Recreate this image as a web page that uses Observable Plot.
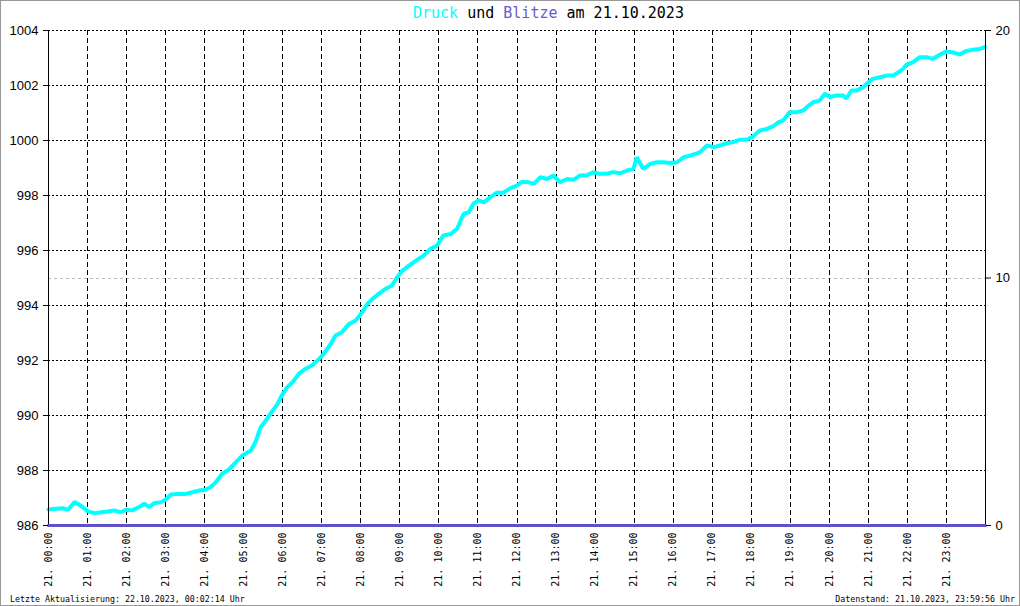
<!DOCTYPE html>
<html>
<head>
<meta charset="utf-8">
<script src="https://cdn.jsdelivr.net/npm/d3@7"></script>
<script src="https://cdn.jsdelivr.net/npm/@observablehq/plot@0.6"></script>
<style>
  html, body { margin: 0; padding: 0; background: white; }
  #frame { position: relative; width: 1020px; height: 606px; outline: 1px solid #999; outline-offset: -1px; overflow: hidden; background: white; }
  #title { height: 22px; line-height: 22px; padding-top: 2px; box-sizing: border-box; padding-left: 413px; font-family: "DejaVu Sans Mono", monospace; font-size: 15px; white-space: pre; color: black; }
  #chart svg { display: block; }
  #footer { height: 16px; box-sizing: border-box; padding: 1px 5px 0 10px; display: flex; justify-content: space-between; font-family: "DejaVu Sans Mono", monospace; font-size: 8.3px; line-height: 16px; color: black; white-space: pre; }
</style>
</head>
<body>
<div id="frame">
  <div id="title"><span style="color:#00FFFF">Druck</span> und <span style="color:#6A5ACD">Blitze</span> am 21.10.2023</div>
  <div id="chart"></div>
  <div id="footer"><span>Letzte Aktualisierung: 22.10.2023, 00:02:14 Uhr</span><span>Datenstand: 21.10.2023, 23:59:56 Uhr</span></div>
</div>
<script>
// Pressure readings (minute of day, hPa)
const minuteOfDay = [
  0,12,22,30,40,47,55,60,70,81,
  91,101,111,119,129,139,147,155,162,173,
  179,188,201,211,221,231,241,249,257,267,
  277,288,298,311,318,326,334,341,352,360,
  367,375,385,395,405,416,423,434,441,451,
  462,472,482,490,498,508,518,528,536,544,
  554,567,577,587,597,607,618,628,638,646,
  653,661,669,679,689,699,710,720,728,738,
  746,756,766,776,786,797,807,817,827,838,
  846,858,868,879,889,899,904,914,925,935,
  945,955,966,976,986,1001,1012,1022,1032,1042,
  1052,1063,1073,1083,1093,1104,1114,1121,1129,1139,
  1150,1160,1168,1175,1185,1193,1201,1211,1221,1226,
  1234,1242,1252,1260,1267,1278,1288,1298,1306,1313,
  1319,1329,1339,1349,1359,1370,1380,1390,1400,1411,
  1421,1431,1439
];
const pressureHpa = [
  986.58,986.61,986.63,986.57,986.85,986.76,986.62,986.52,986.45,986.48,
  986.51,986.55,986.48,986.57,986.55,986.67,986.79,986.67,986.81,986.85,
  986.93,987.13,987.15,987.15,987.21,987.27,987.30,987.39,987.57,987.88,
  988.03,988.30,988.55,988.73,989.03,989.57,989.82,990.06,990.42,990.79,
  991.03,991.21,991.52,991.70,991.82,992.06,992.24,992.61,992.91,993.03,
  993.33,993.45,993.76,994.06,994.24,994.43,994.61,994.73,995.03,995.27,
  995.45,995.67,995.82,996.06,996.18,996.55,996.60,996.79,997.33,997.39,
  997.70,997.82,997.75,997.94,998.10,998.10,998.27,998.36,998.50,998.48,
  998.42,998.67,998.60,998.73,998.48,998.60,998.57,998.73,998.73,998.85,
  998.79,998.79,998.85,998.81,998.91,998.97,999.39,998.97,999.15,999.21,
  999.21,999.18,999.21,999.39,999.45,999.57,999.82,999.76,999.82,999.90,
  999.94,1000.03,1000.03,1000.15,1000.36,1000.42,1000.52,1000.65,1000.73,1001.03,
  1001.03,1001.09,1001.27,1001.39,1001.45,1001.70,1001.58,1001.64,1001.64,1001.52,
  1001.82,1001.82,1001.94,1002.12,1002.24,1002.30,1002.36,1002.36,1002.48,1002.60,
  1002.76,1002.85,1003.03,1003.03,1002.97,1003.12,1003.24,1003.20,1003.13,1003.26,
  1003.30,1003.33,1003.39
];

// Lightning counts per hour (all zero on this day)
const blitzHour  = [0,1,2,3,4,5,6,7,8,9,10,11,12,13,14,15,16,17,18,19,20,21,22,23,24];
const blitzCount = [0,0,0,0,0,0,0,0,0,0,0,0,0,0,0,0,0,0,0,0,0,0,0,0,0];

// Axis ticks and labels
const hourTicks = [0,1,2,3,4,5,6,7,8,9,10,11,12,13,14,15,16,17,18,19,20,21,22,23];
const hourLabels = ["21. 00:00","21. 01:00","21. 02:00","21. 03:00","21. 04:00","21. 05:00",
  "21. 06:00","21. 07:00","21. 08:00","21. 09:00","21. 10:00","21. 11:00","21. 12:00",
  "21. 13:00","21. 14:00","21. 15:00","21. 16:00","21. 17:00","21. 18:00","21. 19:00",
  "21. 20:00","21. 21:00","21. 22:00","21. 23:00"];
const pressureTicks = [986,988,990,992,994,996,998,1000,1002,1004];
const blitzTicks = [0,10,20];

const pressureData = minuteOfDay.map((m, i) => ({hour: m / 60, p: pressureHpa[i]}));
const blitzToP = d3.scaleLinear().domain([0, 20]).range([986, 1004]);
const blitzData = blitzHour.map((h, i) => ({hour: h, p: blitzToP(blitzCount[i])}));

const chart = Plot.plot({
  width: 1020,
  height: 568,
  marginTop: 8,
  marginBottom: 65,
  marginLeft: 48,
  marginRight: 35,
  style: {background: "white", color: "black", overflow: "visible"},
  x: {domain: [0, 24]},
  y: {domain: [986, 1004]},
  marks: [
    Plot.ruleY(pressureTicks.slice(1), {stroke: "black", strokeDasharray: "2,2", shapeRendering: "crispEdges"}),
    Plot.ruleY([blitzToP(10)], {stroke: "#bdbdbd", strokeDasharray: "3,3", shapeRendering: "crispEdges"}),
    Plot.ruleX(hourTicks.slice(1), {stroke: "black", strokeDasharray: "5,3", shapeRendering: "crispEdges"}),
    Plot.line(pressureData, {x: "hour", y: "p", stroke: "#00FFFF", strokeWidth: 4, strokeLinejoin: "miter"}),
    Plot.ruleX([0, 24], {stroke: "black", shapeRendering: "crispEdges"}),
    Plot.line(blitzData, {x: "hour", y: "p", stroke: "#5F52C8", strokeWidth: 3}),
    Plot.axisY({ticks: pressureTicks, tickFormat: d => String(d), tickSize: 5, tickPadding: 5, label: null,
      fontSize: 13, fontFamily: "Liberation Sans"}),
    Plot.axisY({anchor: "right", ticks: blitzTicks.map(b => blitzToP(b)),
      tickFormat: p => String(Math.round(blitzToP.invert(p))),
      tickSize: 5, tickPadding: 5, label: null, fontSize: 13, fontFamily: "Liberation Sans"}),
    Plot.axisX({ticks: hourTicks, tickFormat: h => hourLabels[h], tickRotate: -90,
      tickSize: 0, tickPadding: 7, label: null, fontSize: 10, fontFamily: "DejaVu Sans Mono"})
  ]
});
document.getElementById("chart").appendChild(chart);
</script>
</body>
</html>
